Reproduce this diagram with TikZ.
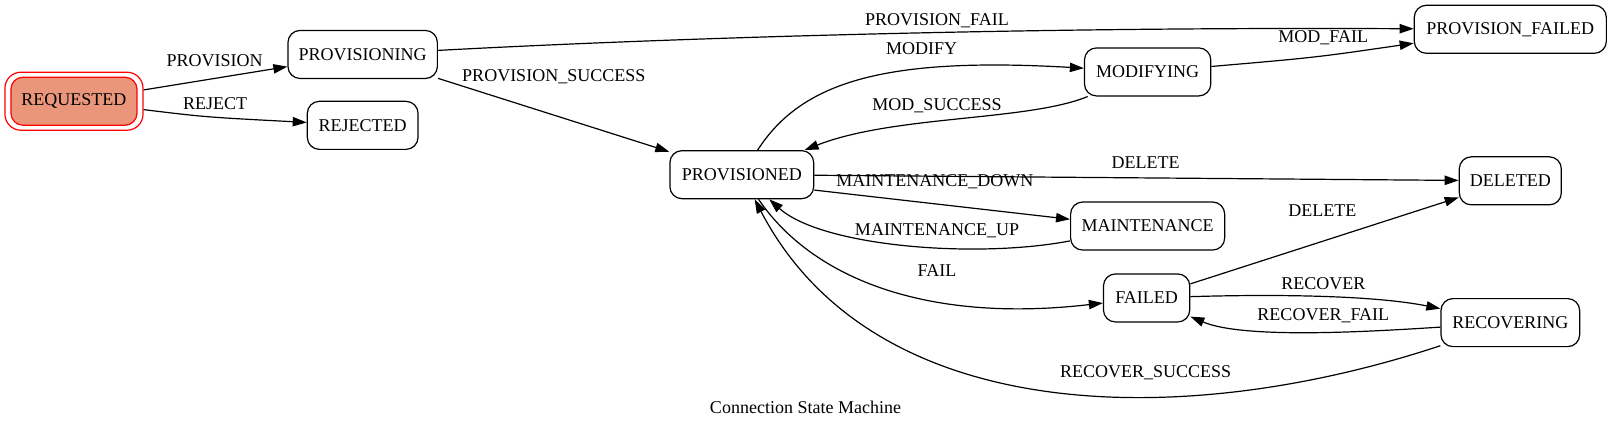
\documentclass[tikz,border=0pt]{standalone}
\usepackage{fontspec}
\setmainfont{Liberation Serif}
\usetikzlibrary{arrows.meta}
\definecolor{dsalmon}{HTML}{E9967A}
\begin{document}
\begin{tikzpicture}[x=0.7703pt,y=-0.7703pt,
  txt/.style={font=\fontsize{13.5}{16}\selectfont},
  state/.style={txt, draw, rounded corners=9pt, line width=0.9pt, minimum height=36pt, inner sep=0pt},
  lbl/.style={txt, inner sep=0pt},
  edge/.style={-{Triangle[length=10.5pt,width=7pt]}, line width=0.9pt}]
\useasboundingbox (0,0) rectangle (1568,416.6);
% nodes
\node[state, draw=red, minimum width=103.5pt, minimum height=43.5pt, rounded corners=12pt] (req) at (72,98.5) {};
\node[state, draw=red, fill=dsalmon, minimum width=94.5pt] (reqin) at (72,98.5) {REQUESTED};
\node[state, minimum width=112pt] (pvg) at (353,53) {PROVISIONING};
\node[state, minimum width=83pt] (rej) at (353,122) {REJECTED};
\node[state, minimum width=107.8pt] (pv) at (722,170) {PROVISIONED};
\node[state, minimum width=94.7pt] (mod) at (1117,70) {MODIFYING};
\node[state, minimum width=144pt] (pf) at (1470,28.5) {PROVISION\_FAILED};
\node[state, minimum width=76.5pt] (del) at (1470,176) {DELETED};
\node[state, minimum width=115.5pt] (mnt) at (1117,220) {MAINTENANCE};
\node[state, minimum width=64.7pt] (fl) at (1116,290) {FAILED};
\node[state, minimum width=104pt] (rec) at (1470,314) {RECOVERING};
% edges
\draw[edge] (req) -- (pvg);
\draw[edge] (req) .. controls (200,114) .. (rej);
\draw[edge] (pvg) .. controls (650,37) and (1000,26) .. (pf);
\draw[edge] (pvg) -- (pv);
\draw[edge] (pv) .. controls (780,80) and (860,55) .. (mod);
\draw[edge] (mod) .. controls (1000,118) and (870,112) .. (pv);
\draw[edge] (mod) .. controls (1280,56) .. (pf);
\draw[edge] (pv) -- (del);
\draw[edge] (pv.-12) -- (mnt.175);
\draw[edge] (mnt) .. controls (950,252) and (800,240) .. (pv);
\draw[edge] (pv) .. controls (790,270) and (900,315) .. (fl);
\draw[edge] (fl) -- (del);
\draw[edge] (fl) .. controls (1250,286) and (1340,288) .. (rec);
\draw[edge] (rec) .. controls (1330,323) and (1210,330) .. (fl);
\draw[edge] (rec) .. controls (1150,420) and (850,415) .. (pv);
% labels
\node[lbl] (l1) at (208.8,59.5) {PROVISION};
\node[lbl] (l2) at (209.4,100.5) {REJECT};
\node[lbl] (l3) at (912,20) {PROVISION\_FAIL};
\node[lbl] (l4) at (539,75) {PROVISION\_SUCCESS};
\node[lbl] (l5) at (897,47) {MODIFY};
\node[lbl] (l6) at (912,103) {MOD\_SUCCESS};
\node[lbl] (l7) at (1288,37) {MOD\_FAIL};
\node[lbl] (l8) at (1115,158) {DELETE};
\node[lbl] (l9) at (910,177) {MAINTENANCE\_DOWN};
\node[lbl] (l10) at (912,225) {MAINTENANCE\_UP};
\node[lbl] (l11) at (912,263) {FAIL};
\node[lbl] (l12) at (1287,205) {DELETE};
\node[lbl] (l13) at (1288,276) {RECOVER};
\node[lbl] (l14) at (1288,307) {RECOVER\_FAIL};
\node[lbl] (l15) at (1115,363) {RECOVER\_SUCCESS};
\node[lbl] (title) at (784,396) {Connection State Machine};
\end{tikzpicture}
\end{document}
